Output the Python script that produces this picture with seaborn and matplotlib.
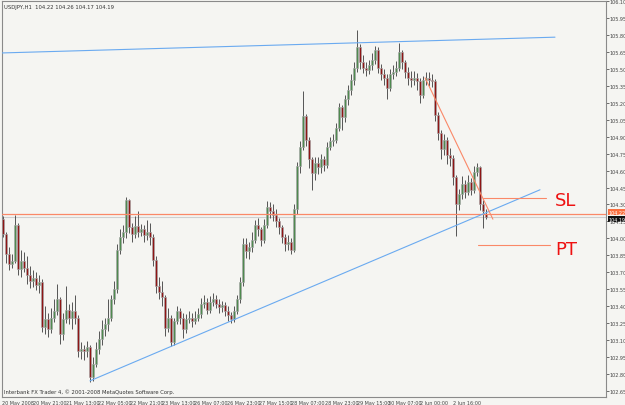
import numpy as np
import pandas as pd
import matplotlib
matplotlib.use("Agg")
import matplotlib.pyplot as plt
import matplotlib.transforms as mtransforms
import seaborn as sns

# ---------------- data (USDJPY H1 candles) ----------------
opens = [104.17, 104.04, 103.86, 103.77, 103.80, 104.12, 103.73, 103.80, 103.74, 103.68,
         103.62, 103.65, 103.59, 103.61, 103.22, 103.29, 103.20, 103.30, 103.36, 103.46,
         103.15, 103.29, 103.37, 103.30, 103.36, 103.30, 103.00, 103.02, 103.00, 103.04,
         102.77, 102.89, 103.02, 103.11, 103.20, 103.24, 103.30, 103.46, 103.55, 103.90,
         104.01, 104.06, 104.34, 104.10, 104.04, 104.11, 104.06, 104.08, 104.03, 104.06,
         104.01, 103.81, 103.58, 103.53, 103.48, 103.21, 103.30, 103.08, 103.27, 103.36,
         103.30, 103.20, 103.29, 103.30, 103.27, 103.30, 103.33, 103.42, 103.44, 103.37,
         103.44, 103.46, 103.42, 103.39, 103.41, 103.36, 103.32, 103.29, 103.36, 103.46,
         103.61, 103.95, 103.89, 103.92, 103.99, 104.12, 104.08, 103.99, 104.12, 104.28,
         104.24, 104.21, 104.15, 104.10, 104.01, 103.95, 103.97, 103.90, 104.26, 104.64,
         104.81, 105.08, 104.87, 104.70, 104.58, 104.67, 104.63, 104.70, 104.65, 104.81,
         104.86, 104.87, 104.98, 105.16, 105.07, 105.23, 105.31, 105.40, 105.51, 105.69,
         105.56, 105.51, 105.49, 105.53, 105.58, 105.67, 105.51, 105.45, 105.42, 105.33,
         105.45, 105.47, 105.51, 105.65, 105.56, 105.47, 105.42, 105.40, 105.42, 105.39,
         105.27, 105.40, 105.42, 105.40, 105.39, 105.09, 104.93, 104.79, 104.87, 104.74,
         104.71, 104.54, 104.30, 104.39, 104.48, 104.41, 104.50, 104.43, 104.59, 104.63,
         104.30, 104.22]
highs = [104.20, 104.06, 103.92, 103.86, 104.21, 104.14, 103.90, 103.88, 103.84, 103.76,
         103.72, 103.70, 103.68, 103.64, 103.40, 103.34, 103.38, 103.46, 103.60, 103.48,
         103.34, 103.58, 103.42, 103.44, 103.50, 103.32, 103.08, 103.06, 103.09, 103.06,
         102.95, 103.08, 103.18, 103.28, 103.30, 103.46, 103.50, 103.62, 103.95, 104.08,
         104.12, 104.37, 104.35, 104.14, 104.20, 104.24, 104.13, 104.12, 104.16, 104.14,
         104.04, 103.84, 103.66, 103.62, 103.50, 103.38, 103.32, 103.30, 103.40, 103.38,
         103.34, 103.33, 103.36, 103.34, 103.36, 103.38, 103.47, 103.50, 103.47, 103.49,
         103.52, 103.50, 103.46, 103.45, 103.44, 103.40, 103.35, 103.40, 103.50, 103.66,
         104.00, 104.00, 103.97, 104.06, 104.16, 104.18, 104.10, 104.17, 104.33, 104.32,
         104.30, 104.26, 104.18, 104.12, 104.04, 104.03, 104.00, 104.30, 104.68, 104.86,
         105.30, 105.10, 104.90, 104.72, 104.72, 104.72, 104.75, 104.73, 104.85, 104.90,
         104.92, 105.02, 105.20, 105.18, 105.27, 105.36, 105.45, 105.56, 105.84, 105.72,
         105.62, 105.56, 105.58, 105.64, 105.70, 105.69, 105.54, 105.50, 105.45, 105.50,
         105.53, 105.57, 105.73, 105.67, 105.58, 105.52, 105.48, 105.48, 105.46, 105.42,
         105.44, 105.47, 105.47, 105.45, 105.41, 105.12, 104.96, 104.92, 104.90, 104.80,
         104.74, 104.56, 104.44, 104.55, 104.52, 104.56, 104.53, 104.64, 104.67, 104.64,
         104.34, 104.26]
lows = [104.01, 103.78, 103.72, 103.74, 103.78, 103.68, 103.66, 103.70, 103.60, 103.56,
        103.57, 103.54, 103.52, 103.17, 103.15, 103.13, 103.16, 103.26, 103.32, 103.07,
        103.10, 103.25, 103.24, 103.20, 103.24, 102.95, 102.93, 102.92, 102.95, 102.73,
        102.74, 102.86, 102.98, 103.06, 103.14, 103.18, 103.27, 103.42, 103.52, 103.86,
        103.96, 104.00, 104.05, 103.97, 104.00, 104.01, 104.02, 103.97, 103.99, 103.94,
        103.76, 103.52, 103.46, 103.40, 103.14, 103.17, 103.05, 103.06, 103.24, 103.24,
        103.12, 103.16, 103.25, 103.22, 103.24, 103.27, 103.30, 103.38, 103.33, 103.34,
        103.40, 103.38, 103.34, 103.35, 103.31, 103.27, 103.25, 103.26, 103.33, 103.43,
        103.58, 103.83, 103.82, 103.88, 103.96, 104.02, 103.93, 103.96, 104.09, 104.18,
        104.15, 104.10, 104.04, 103.96, 103.89, 103.90, 103.86, 103.88, 104.22, 104.58,
        104.78, 104.82, 104.62, 104.43, 104.52, 104.57, 104.58, 104.60, 104.62, 104.78,
        104.82, 104.84, 104.95, 104.96, 105.03, 105.18, 105.27, 105.36, 105.47, 105.50,
        105.46, 105.44, 105.45, 105.49, 105.54, 105.46, 105.40, 105.36, 105.23, 105.30,
        105.41, 105.44, 105.48, 105.50, 105.42, 105.36, 105.34, 105.36, 105.31, 105.20,
        105.24, 105.36, 105.35, 105.34, 105.04, 104.87, 104.70, 104.74, 104.66, 104.64,
        104.47, 104.02, 104.25, 104.35, 104.36, 104.38, 104.38, 104.40, 104.55, 104.25,
        104.09, 104.17]
closes = [104.04, 103.86, 103.77, 103.80, 104.12, 103.73, 103.80, 103.74, 103.68, 103.62,
          103.65, 103.59, 103.61, 103.22, 103.29, 103.20, 103.30, 103.36, 103.46, 103.15,
          103.29, 103.37, 103.30, 103.36, 103.30, 103.00, 103.02, 103.00, 103.04, 102.77,
          102.89, 103.02, 103.11, 103.20, 103.24, 103.30, 103.46, 103.55, 103.90, 104.01,
          104.06, 104.34, 104.10, 104.04, 104.11, 104.06, 104.08, 104.03, 104.06, 104.01,
          103.81, 103.58, 103.53, 103.48, 103.21, 103.30, 103.08, 103.27, 103.36, 103.30,
          103.20, 103.29, 103.30, 103.27, 103.30, 103.33, 103.42, 103.44, 103.37, 103.44,
          103.46, 103.42, 103.39, 103.41, 103.36, 103.32, 103.29, 103.36, 103.46, 103.61,
          103.95, 103.89, 103.92, 103.99, 104.12, 104.08, 103.99, 104.12, 104.28, 104.24,
          104.21, 104.15, 104.10, 104.01, 103.95, 103.97, 103.90, 104.26, 104.64, 104.81,
          105.08, 104.87, 104.70, 104.58, 104.67, 104.63, 104.70, 104.65, 104.81, 104.86,
          104.87, 104.98, 105.16, 105.07, 105.23, 105.31, 105.40, 105.51, 105.69, 105.56,
          105.51, 105.49, 105.53, 105.58, 105.67, 105.51, 105.45, 105.42, 105.33, 105.45,
          105.47, 105.51, 105.65, 105.56, 105.47, 105.42, 105.40, 105.42, 105.39, 105.27,
          105.40, 105.42, 105.40, 105.39, 105.09, 104.93, 104.79, 104.87, 104.74, 104.71,
          104.54, 104.30, 104.39, 104.48, 104.41, 104.50, 104.43, 104.59, 104.63, 104.30,
          104.24, 104.19]

# y-axis tick values and x-axis time labels
ytick_values = [106.10, 105.95, 105.80, 105.65, 105.50, 105.35, 105.20, 105.05, 104.90,
                104.75, 104.60, 104.45, 104.30, 104.15, 104.00, 103.85, 103.70, 103.55,
                103.40, 103.25, 103.10, 102.95, 102.80, 102.65]
xtick_bars = [-0.3, 10, 21, 31.7, 42.3, 53, 63.7, 74.7, 85.3, 96, 107.3, 118, 128.3, 139, 150]
xtick_labels = ["20 May 2008", "20 May 21:00", "21 May 13:00", "22 May 05:00", "22 May 21:00",
                "23 May 13:00", "26 May 07:00", "26 May 23:00", "27 May 15:00", "28 May 07:00",
                "28 May 23:00", "29 May 15:00", "30 May 07:00", "2 Jun 00:00", "2 Jun 16:00"]

# drawn objects (bar index, price)
upper_line_x = [-1, 184]
upper_line_y = [105.64, 105.78]
lower_line_x = [29, 179]
lower_line_y = [102.74, 104.43]
down_line_x = [140.7, 163.3]
down_line_y = [105.42, 104.17]
hline_price = 104.22
bid_price = 104.19
sl_x = [160, 181]
sl_price = 104.36
pt_x = [158.3, 182.3]
pt_price = 103.94
title_text = "USDJPY,H1  104.22 104.26 104.17 104.19"

# ---------------- drawing ----------------
sns.set_style("white")
plt.rcParams['font.family'] = ['DejaVu Sans']
SMALL = ['Liberation Sans Narrow', 'DejaVu Sans']
FS = 3.5

BG = "#f5f5f2"
fig = plt.figure(figsize=(6.25, 4.06), dpi=100, facecolor=BG)
ax = fig.add_axes([2 / 625, 8 / 406, 604 / 625, 396 / 406])
ax.set_facecolor(BG)

df = pd.DataFrame({"o": opens, "h": highs, "l": lows, "c": closes})
df["i"] = np.arange(len(df))
up = df["c"] >= df["o"]

ax.vlines(df["i"], df["l"], df["h"], color="#555555", lw=0.7, zorder=2)
body_bottom = np.minimum(df["o"], df["c"])
body_h = np.maximum(np.abs(df["c"] - df["o"]), 0.006)
ax.bar(df["i"], body_h, bottom=body_bottom, width=0.75,
       color=np.where(up, "#4f8a4f", "#8e1515"), edgecolor="#a5a5a5",
       linewidth=0.45, zorder=3)

# horizontal lines
ax.axhline(bid_price, color="#cfcfcf", lw=0.8, zorder=1)
ax.axhline(hline_price, color="#fa8868", lw=0.9, zorder=4)

# trend lines
sns.lineplot(x=upper_line_x, y=upper_line_y, ax=ax, color="#6aaaf0", lw=0.8, zorder=4)
sns.lineplot(x=lower_line_x, y=lower_line_y, ax=ax, color="#6aaaf0", lw=0.8, zorder=4)
sns.lineplot(x=down_line_x, y=down_line_y, ax=ax, color="#fa8868", lw=0.8, zorder=4)
sns.lineplot(x=sl_x, y=[sl_price, sl_price], ax=ax, color="#fa8868", lw=0.8, zorder=4)
sns.lineplot(x=pt_x, y=[pt_price, pt_price], ax=ax, color="#fa8868", lw=0.8, zorder=4)

ax.text(184, sl_price - 0.02, "SL", color="#ee1111", fontsize=13, va="center", ha="left")
ax.text(184, pt_price - 0.03, "PT", color="#ee1111", fontsize=13, va="center", ha="left")

# limits
ax.set_xlim(-1 / 3, 201)
ax.set_ylim(102.597, 106.091)

# axes frame
for s in ["top", "left", "right", "bottom"]:
    ax.spines[s].set_color("#8a8a8a")
    ax.spines[s].set_linewidth(0.8)

ax.yaxis.tick_right()
ax.set_yticks(ytick_values)
ax.set_yticklabels([f"{v:.2f}" for v in ytick_values], family=SMALL)
ax.tick_params(axis="y", direction="out", length=1.8, width=0.6, color="#555555",
               labelsize=FS, labelcolor="#444444", pad=0.6)
ax.set_xticks(xtick_bars)
ax.set_xticklabels(xtick_labels, family=SMALL)
ax.tick_params(axis="x", direction="out", length=2, width=0.6, color="#555555",
               labelsize=FS, labelcolor="#444444", pad=0.5)
for lbl in ax.get_xticklabels():
    lbl.set_ha("left")

# price boxes on the right scale
trans = mtransforms.blended_transform_factory(ax.transAxes, ax.transData)
ax.text(1.004, hline_price + 0.012, f"{hline_price:.2f}", transform=trans, fontsize=FS,
        family=SMALL, color="white", va="center", ha="left", clip_on=False,
        bbox=dict(boxstyle="square,pad=0.1", fc="#fa7040", ec="none"), zorder=6)
ax.text(1.004, bid_price - 0.022, f"{bid_price:.2f}", transform=trans, fontsize=FS,
        family=SMALL, color="white", va="center", ha="left", clip_on=False,
        bbox=dict(boxstyle="square,pad=0.1", fc="#111111", ec="none"), zorder=7)

# texts
ax.text(0.003, 0.992, title_text, transform=ax.transAxes, fontsize=FS + 0.3, family=SMALL,
        color="#333333", va="top", ha="left")
ax.text(0.003, 0.008, "Interbank FX Trader 4, \u00a9 2001-2008 MetaQuotes Software Corp.",
        transform=ax.transAxes, fontsize=FS + 0.3, family=SMALL, color="#333333",
        va="bottom", ha="left")

fig.savefig("out.png", dpi=100, facecolor=BG)
